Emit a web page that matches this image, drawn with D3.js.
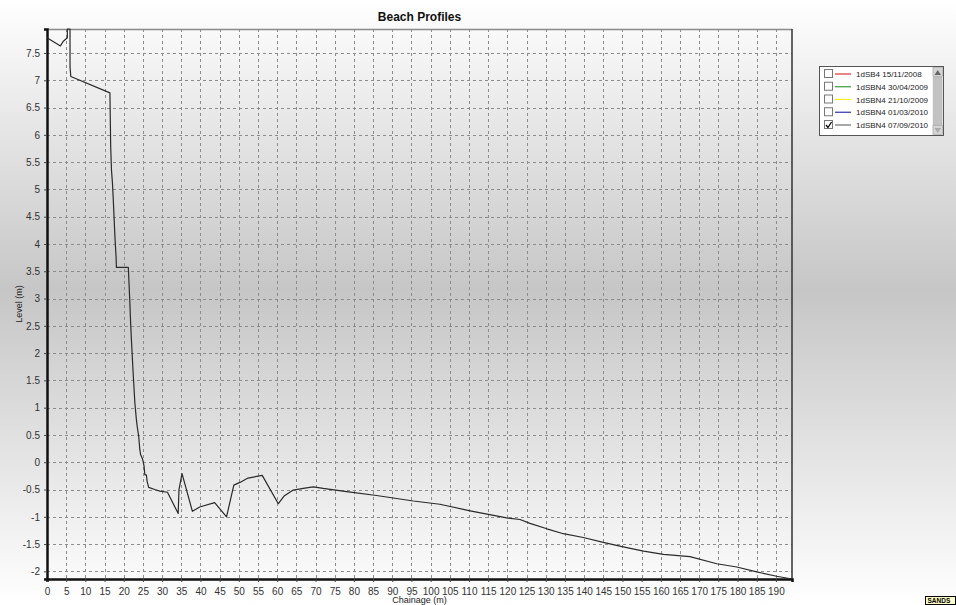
<!DOCTYPE html>
<html><head><meta charset="utf-8">
<script src="https://cdn.jsdelivr.net/npm/d3@7/dist/d3.min.js"></script>
<style>html,body{margin:0;padding:0;overflow:hidden;background:#fff}svg{display:block}</style>
</head><body>
<svg id="c" width="956" height="605"></svg>
<script>
const chainage = [0,3.5,4.2,5.0,5.3,5.3,6.0,6.0,6.2,16.4,16.6,16.8,17.06,17.3,17.5,17.7,18.0,18.1,21.2,21.4,21.6,21.8,22.0,22.5,22.9,23.3,23.5,23.9,24.2,24.4,24.9,25.3,25.5,25.9,26.1,26.5,28.1,29.4,31.4,34.2,34.4,35.2,37.9,39.8,43.7,46.8,48.7,50.3,52.4,56.1,60.3,61.8,64.2,66.8,69.4,72.0,78.1,85.9,95.5,102.4,110.3,119.8,123.3,125.9,130.3,134.6,139.8,145.0,150.2,155.5,160.7,167.6,174.6,179.8,185.0,190.2,194.2];
const level = [7.78,7.63,7.71,7.76,7.78,7.94,7.94,7.25,7.07,6.77,5.79,5.36,5.12,4.78,4.46,4.14,3.77,3.57,3.57,3.25,2.92,2.55,2.25,1.58,1.09,0.78,0.66,0.48,0.23,0.14,0.06,-0.07,-0.23,-0.23,-0.35,-0.46,-0.50,-0.53,-0.55,-0.94,-0.50,-0.21,-0.90,-0.82,-0.74,-1.00,-0.42,-0.37,-0.29,-0.24,-0.76,-0.62,-0.51,-0.48,-0.45,-0.48,-0.54,-0.61,-0.71,-0.77,-0.89,-1.02,-1.05,-1.12,-1.22,-1.31,-1.38,-1.47,-1.55,-1.63,-1.69,-1.73,-1.86,-1.92,-2.01,-2.09,-2.14];
const xTicks = [0,5,10,15,20,25,30,35,40,45,50,55,60,65,70,75,80,85,90,95,100,105,110,115,120,125,130,135,140,145,150,155,160,165,170,175,180,185,190];
const yTicks = [-2,-1.5,-1,-0.5,0,0.5,1,1.5,2,2.5,3,3.5,4,4.5,5,5.5,6,6.5,7,7.5];
const seriesNames = ["1dSB4 15/11/2008","1dSBN4 30/04/2009","1dSBN4 21/10/2009","1dSBN4 01/03/2010","1dSBN4 07/09/2010"];
const seriesColors = ["#e03030","#3a9a3a","#f0f020","#3030b0","#707070"];
const seriesChecked = [false,false,false,false,true];
const chartTitle = "Beach Profiles";
const xTitle = "Chainage (m)";
const yTitle = "Level (m)";

const svg = d3.select("#c");
const font = "'Liberation Sans', Arial, sans-serif";
const defs = svg.append("defs");
const g = defs.append("linearGradient").attr("id","bg").attr("x1",0).attr("y1",0).attr("x2",0).attr("y2",1);
g.append("stop").attr("offset","0%").attr("stop-color","#ffffff");
g.append("stop").attr("offset","48%").attr("stop-color","#c6c6c6");
g.append("stop").attr("offset","100%").attr("stop-color","#ffffff");
svg.append("rect").attr("width",956).attr("height",605).attr("fill","url(#bg)");

const L=47,R=792,T=29,B=579;
const pts = chainage.map((c,i)=>({c, v: level[i]}));
const x = d3.scaleLinear().domain(d3.extent(chainage)).range([L,R]);
const y = d3.scaleLinear().domain(d3.extent(level)).range([B,T]);

// grid
const grid = svg.append("g").attr("stroke","#8c8c8c").attr("stroke-width",1).attr("stroke-dasharray","3,3");
xTicks.filter(t=>t>0).forEach(t=>{
  const px = Math.round(x(t))+0.5;
  grid.append("line").attr("x1",px).attr("x2",px).attr("y1",T).attr("y2",B);
});
yTicks.forEach(t=>{
  const py = Math.round(y(t))+0.5;
  grid.append("line").attr("x1",L).attr("x2",R).attr("y1",py).attr("y2",py);
});

// frame
svg.append("line").attr("x1",L).attr("x2",R).attr("y1",T+0.5).attr("y2",T+0.5).attr("stroke","#8a8a8a").attr("stroke-width",1.5);
svg.append("line").attr("x1",R).attr("x2",R).attr("y1",T).attr("y2",B).attr("stroke","#333").attr("stroke-width",1.5);

// axes
const xAxis = d3.axisBottom(x).tickValues(xTicks).tickSize(3).tickFormat(d3.format("d"));
const xa = svg.append("g").attr("transform",`translate(0,${B})`).call(xAxis);
xa.select(".domain").attr("stroke","#111").attr("stroke-width",2.5);
xa.selectAll(".tick line").attr("stroke","#444");
xa.selectAll("text").attr("font-family",font).attr("font-size",10).attr("fill","#333").attr("dy","0.95em");

const yAxis = d3.axisLeft(y).tickValues(yTicks).tickSize(3).tickPadding(4).tickFormat(d=>String(d));
const ya = svg.append("g").attr("transform",`translate(${L},0)`).call(yAxis);
ya.select(".domain").attr("stroke","#111").attr("stroke-width",2.5);
ya.selectAll(".tick line").attr("stroke","#444");
ya.selectAll("text").attr("font-family",font).attr("font-size",10).attr("fill","#333");

// line
svg.append("path").datum(pts)
  .attr("d", d3.line().x(d=>x(d.c)).y(d=>y(d.v)))
  .attr("fill","none").attr("stroke","#2a2a2a").attr("stroke-width",1.2).attr("stroke-linejoin","round");

// titles
svg.append("text").attr("x",(L+R)/2).attr("y",21).attr("text-anchor","middle")
  .attr("font-family",font).attr("font-weight","bold").attr("font-size",12).attr("fill","#111").text(chartTitle);
svg.append("text").attr("x",(L+R)/2).attr("y",603).attr("text-anchor","middle")
  .attr("font-family",font).attr("font-size",9).attr("fill","#222").text(xTitle);
svg.append("text").attr("transform",`translate(22,${(T+B)/2}) rotate(-90)`).attr("text-anchor","middle")
  .attr("font-family",font).attr("font-size",9).attr("fill","#222").text(yTitle);

// legend
const lg = svg.append("g");
lg.append("rect").attr("x",819.5).attr("y",66.5).attr("width",124).attr("height",69)
  .attr("fill","#fff").attr("stroke","#555").attr("stroke-width",1);
const rowY = d3.scaleLinear().domain([0,4]).range([74,125]);
seriesNames.forEach((n,i)=>{
  const cy = rowY(i);
  lg.append("rect").attr("x",824.5).attr("y",cy-4.5).attr("width",8).attr("height",8)
    .attr("fill","#fff").attr("stroke","#777");
  if(seriesChecked[i]){
    lg.append("path").attr("d",`M826,${cy} L828,${cy+2.5} L831.5,${cy-3}`).attr("fill","none").attr("stroke","#000").attr("stroke-width",1.3);
  }
  lg.append("line").attr("x1",835).attr("x2",851).attr("y1",cy).attr("y2",cy).attr("stroke",seriesColors[i]).attr("stroke-width",1.2);
  lg.append("text").attr("x",856).attr("y",cy+3).attr("font-family",font).attr("font-size",8)
    .attr("fill","#222").text(n);
});
// scrollbar
lg.append("rect").attr("x",932.5).attr("y",67).attr("width",10).attr("height",68).attr("fill","#e6e6e6");
lg.append("rect").attr("x",933).attr("y",67.5).attr("width",9.5).attr("height",9).attr("fill","#d4d4d4").attr("stroke","#999").attr("stroke-width",0.5);
lg.append("rect").attr("x",933).attr("y",125.5).attr("width",9.5).attr("height",9).attr("fill","#d4d4d4").attr("stroke","#999").attr("stroke-width",0.5);
lg.append("rect").attr("x",933.5).attr("y",77).attr("width",8.5).attr("height",48).attr("fill","#c2c2c2").attr("stroke","#aaa").attr("stroke-width",0.5);
lg.append("path").attr("d","M934.5,75 L937.75,70 L941,75 Z").attr("fill","#666");
lg.append("path").attr("d","M934.5,128 L937.75,133 L941,128 Z").attr("fill","#aaa");

// SANDS badge
svg.append("rect").attr("x",925.5).attr("y",596.5).attr("width",30).attr("height",8).attr("fill","#ffffc8").attr("stroke","#000");
svg.append("text").attr("x",927.5).attr("y",603).attr("font-family",font).attr("font-weight","bold").attr("font-size",6.5).attr("fill","#000").text("SANDS");
</script>
</body></html>
